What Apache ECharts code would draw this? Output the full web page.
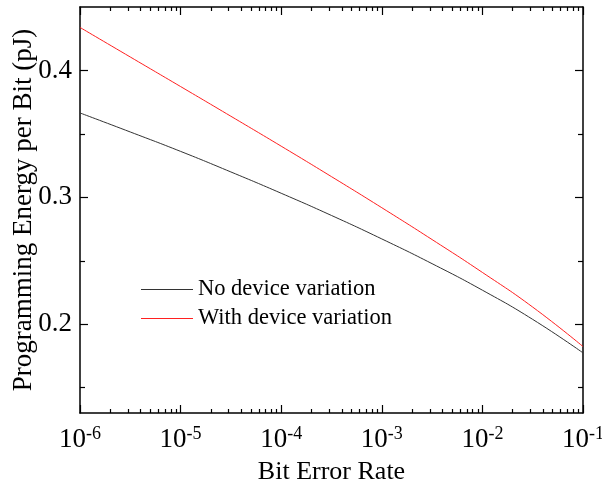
<!DOCTYPE html>
<html><head><meta charset="utf-8">
<script src="https://cdn.jsdelivr.net/npm/echarts@6/dist/echarts.min.js"></script>
<style>html,body{margin:0;padding:0;background:#fff}#c{width:602px;height:494px}</style>
</head><body><div id="c"></div>
<script>
const berValues = [1e-6, 3.16e-6, 1e-5, 3.16e-5, 1e-4, 3.16e-4, 1e-3, 3.16e-3, 1e-2, 3.16e-2, 1e-1];
const noVariation = [0.3665, 0.3515, 0.3362, 0.3200, 0.3032, 0.2857, 0.2672, 0.2477, 0.2268, 0.2038, 0.1774];
const withVariation = [0.4339, 0.4106, 0.3873, 0.3639, 0.3403, 0.3163, 0.2918, 0.2667, 0.2408, 0.2135, 0.1824];
const xMajorTicks = [1e-6, 1e-5, 1e-4, 1e-3, 1e-2, 1e-1];
const xMinorMultipliers = [2, 3, 4, 5, 6, 7, 8, 9];
const yMajorTicks = [0.2, 0.3, 0.4];
const yMinorTicks = [0.15, 0.25, 0.35];
const seriesNames = ['No device variation', 'With device variation'];
const seriesColors = ['#333333', '#ff2020'];

const xMinorTicks = [];
xMajorTicks.slice(0, -1).forEach(d => xMinorMultipliers.forEach(m => xMinorTicks.push(d * m)));

const FONT = '"Liberation Serif", "Times New Roman", serif';
const X_MIN = 1e-6, X_MAX = 1e-1, Y_MIN = 0.13, Y_MAX = 0.45;

function xAxisBase(pos, ticks, len, showLine, showLabel) {
  return {
    type: 'log', logBase: 10, min: X_MIN, max: X_MAX, position: pos,
    axisLine: { show: showLine, onZero: false, lineStyle: { color: '#000', width: 1.5 } },
    axisTick: { show: true, inside: true, length: len, customValues: ticks, lineStyle: { color: '#000', width: 1.2 } },
    axisLabel: showLabel ? {
      show: true, customValues: xMajorTicks, margin: 12,
      formatter: v => '{b|10}{s|' + Math.round(Math.log10(v)) + '}',
      rich: {
        b: { fontFamily: FONT, fontSize: 27, color: '#000', verticalAlign: 'bottom', lineHeight: 28 },
        s: { fontFamily: FONT, fontSize: 18, color: '#000', verticalAlign: 'top', lineHeight: 28 }
      }
    } : { show: false },
    splitLine: { show: false }, minorTick: { show: false }
  };
}
function yAxisBase(pos, ticks, len, showLine, showLabel) {
  return {
    type: 'value', min: Y_MIN, max: Y_MAX, position: pos,
    axisLine: { show: showLine, onZero: false, lineStyle: { color: '#000', width: 1.5 } },
    axisTick: { show: true, inside: true, length: len, customValues: ticks, lineStyle: { color: '#000', width: 1.2 } },
    axisLabel: showLabel ? {
      show: true, customValues: yMajorTicks, margin: 8,
      fontFamily: FONT, fontSize: 27, color: '#000', formatter: v => v.toFixed(1)
    } : { show: false },
    splitLine: { show: false }
  };
}

const xAxes = [
  xAxisBase('bottom', xMajorTicks, 8, true, true),
  xAxisBase('bottom', xMinorTicks, 4, false, false),
  xAxisBase('top', xMajorTicks, 8, true, false),
  xAxisBase('top', xMinorTicks, 4, false, false)
];
Object.assign(xAxes[0], {
  name: 'Bit Error Rate', nameLocation: 'middle', nameGap: 46, nameMoveOverlap: false,
  nameTextStyle: { fontFamily: FONT, fontSize: 26, color: '#000' }
});
const yAxes = [
  yAxisBase('left', yMajorTicks, 8, true, true),
  yAxisBase('left', yMinorTicks, 5, false, false),
  yAxisBase('right', yMajorTicks, 8, true, false),
  yAxisBase('right', yMinorTicks, 5, false, false)
];
Object.assign(yAxes[0], {
  name: 'Programming Energy per Bit (pJ)', nameLocation: 'middle', nameGap: 43, nameMoveOverlap: false,
  nameTextStyle: { fontFamily: FONT, fontSize: 27, color: '#000' }
});

const chart = echarts.init(document.getElementById('c'), null, { renderer: 'canvas' });
chart.setOption({
  animation: false,
  backgroundColor: '#fff',
  grid: { left: 80, right: 19, top: 7, bottom: 81, containLabel: false, outerBoundsMode: 'none' },
  xAxis: xAxes,
  yAxis: yAxes,
  legend: {
    orient: 'vertical', left: 136, top: 273, itemWidth: 52, itemHeight: 14, itemGap: 6,
    icon: 'path://M0,0L52,0L52,1L0,1Z',
    itemStyle: { borderWidth: 0 },
    textStyle: { fontFamily: FONT, fontSize: 22.5, color: '#000', padding: [0, 0, 0, 0] },
    data: seriesNames.map((n, i) => ({ name: n, itemStyle: { color: seriesColors[i], borderWidth: 0 } }))
  },
  series: [
    { name: seriesNames[0], type: 'line', xAxisIndex: 0, yAxisIndex: 0, symbol: 'none', smooth: true,
      lineStyle: { color: seriesColors[0], width: 1 }, itemStyle: { color: seriesColors[0] },
      data: berValues.map((x, i) => [x, noVariation[i]]) },
    { name: seriesNames[1], type: 'line', xAxisIndex: 0, yAxisIndex: 0, symbol: 'none', smooth: true,
      lineStyle: { color: seriesColors[1], width: 1 }, itemStyle: { color: seriesColors[1] },
      data: berValues.map((x, i) => [x, withVariation[i]]) }
  ]
});
</script></body></html>
